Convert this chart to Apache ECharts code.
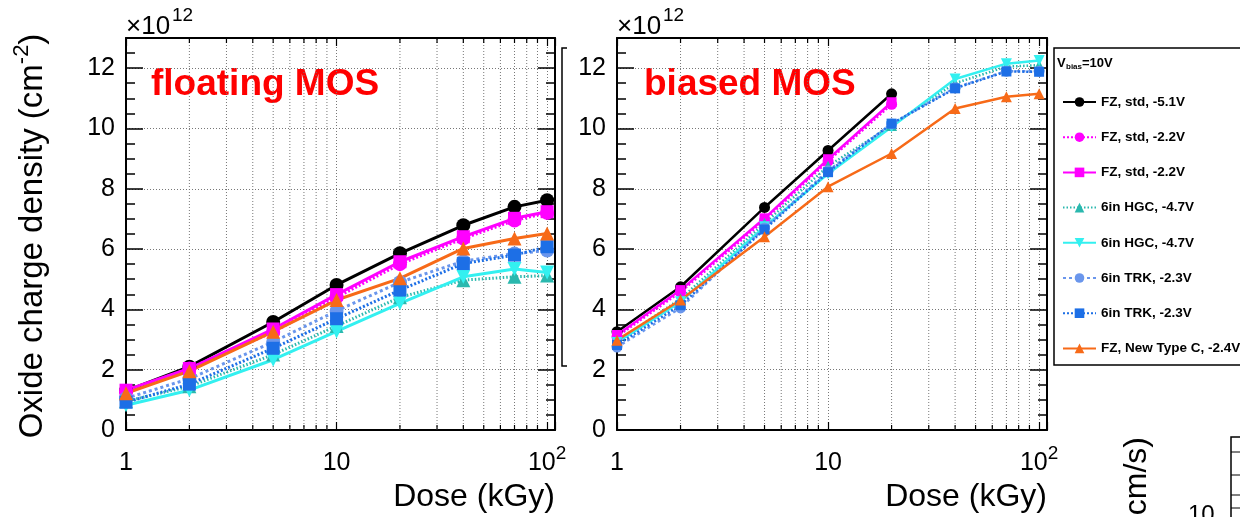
<!DOCTYPE html>
<html><head><meta charset="utf-8">
<script src="https://cdn.jsdelivr.net/npm/echarts@6/dist/echarts.min.js"></script>
<style>html,body{margin:0;padding:0;background:#fff}#c{width:1240px;height:517px}</style>
</head><body><div id="c"></div>
<script>
// ---------- data ----------
const doses = [1, 2, 5, 10, 20, 40, 70, 100];
const minorDoses = [2, 3, 4, 5, 6, 7, 8, 9, 20, 30, 40, 50, 60, 70, 80, 90];
const xTickValues = [1, 10, 100];
const xTickLabels = ['1', '10', '10^2'];
const yTickValues = [0, 2, 4, 6, 8, 10, 12];
const seriesNames = ['FZ, std, -5.1V', 'FZ, std, -2.2V', 'FZ, std, -2.2V ', '6in HGC, -4.7V', '6in HGC, -4.7V ', '6in TRK, -2.3V', '6in TRK, -2.3V ', 'FZ, New Type C, -2.4V'];

// floating MOS (x1e12 cm^-2)
const floatFz51   = [1.30, 2.10, 3.58, 4.81, 5.86, 6.79, 7.40, 7.62];
const floatFz22c  = [1.28, 2.04, 3.25, 4.40, 5.50, 6.35, 6.95, 7.20];
const floatFz22s  = [1.32, 2.04, 3.35, 4.49, 5.58, 6.41, 7.02, 7.24];
const floatHgcUp  = [0.95, 1.45, 2.50, 3.45, 4.40, 4.97, 5.08, 5.12];
const floatHgcDn  = [0.82, 1.32, 2.33, 3.27, 4.20, 5.08, 5.34, 5.22];
const floatTrkC   = [1.05, 1.70, 2.92, 3.95, 4.90, 5.60, 5.85, 5.95];
const floatTrkS   = [0.92, 1.52, 2.71, 3.69, 4.64, 5.52, 5.80, 6.08];
const floatTypeC  = [1.22, 1.95, 3.26, 4.31, 5.03, 6.02, 6.35, 6.52];

// biased MOS (x1e12 cm^-2)
const biasFz51    = [3.26, 4.75, 7.38, 9.27, 11.15];
const biasFz22c   = [3.10, 4.58, 6.95, 8.92, 10.80];
const biasFz22s   = [3.15, 4.64, 7.02, 8.98, 10.87];
const biasHgcUp   = [2.95, 4.35, 6.85, 8.75, 10.10, 11.50, 12.05, 12.10];
const biasHgcDn   = [2.90, 4.25, 6.74, 8.50, 10.05, 11.64, 12.15, 12.25];
const biasTrkC    = [2.75, 4.05, 6.70, 8.60, 10.15, 11.35, 11.90, 11.90];
const biasTrkS    = [2.82, 4.14, 6.65, 8.55, 10.16, 11.33, 11.89, 11.88];
const biasTypeC   = [2.98, 4.31, 6.41, 8.07, 9.17, 10.66, 11.05, 11.15];

const floatSets = [floatFz51, floatFz22c, floatFz22s, floatHgcUp, floatHgcDn, floatTrkC, floatTrkS, floatTypeC];
const biasSets  = [biasFz51, biasFz22c, biasFz22s, biasHgcUp, biasHgcDn, biasTrkC, biasTrkS, biasTypeC];

// ---------- styles ----------
const FONT = "'Liberation Sans', Arial, Helvetica, sans-serif";
const Y_MIN = 0, Y_MAX = 13, X_MIN = 1, X_MAX = 109;
const looks = [
  {color: '#000000', symbol: 'circle',   type: 'solid', rot: 0},
  {color: '#ff00ff', symbol: 'circle',   type: [2, 2],  rot: 0},
  {color: '#ff00ff', symbol: 'rect',     type: 'solid', rot: 0},
  {color: '#2ab8ae', symbol: 'triangle', type: [1.5, 2], rot: 0},
  {color: '#33f0f0', symbol: 'triangle', type: 'solid', rot: 180},
  {color: '#6a96ec', symbol: 'circle',   type: [3, 3],  rot: 0},
  {color: '#1d6fe6', symbol: 'rect',     type: [2, 2],  rot: 0},
  {color: '#f76a18', symbol: 'triangle', type: 'solid', rot: 0}
];

function xLabel(v) {
  const e = Math.log10(v);
  for (let i = 0; i < xTickValues.length; i++) {
    if (Math.abs(Math.log10(xTickValues[i]) - e) < 1e-6) {
      return '{b|' + xTickLabels[i].replace(/\^(\w+)/, '}{s|$1') + '}';
    }
  }
  return '';
}
function yLabel(v) {
  return yTickValues.some(t => Math.abs(t - v) < 1e-9) ? String(Math.round(v)) : '';
}

function makeX(gridIndex, bottom) {
  return {
    type: 'log', logBase: 10, gridIndex, min: X_MIN, max: X_MAX,
    position: bottom ? 'bottom' : 'top',
    axisLine: {show: true, onZero: false, lineStyle: {color: '#000', width: 2}},
    axisTick: {show: true, inside: true, length: 8, lineStyle: {color: '#000', width: 1.2}},
    axisLabel: bottom ? {
      show: true, margin: 13, formatter: xLabel, color: '#000', fontFamily: FONT,
      rich: {
        b: {fontSize: 25, lineHeight: 33, verticalAlign: 'bottom', fontFamily: FONT, color: '#000'},
        s: {fontSize: 19, padding: [0, 0, 13, 0], verticalAlign: 'bottom', fontFamily: FONT, color: '#000'}
      }
    } : {show: false},
    splitLine: {show: bottom, lineStyle: {color: '#777', width: 1, type: [1, 2]}},
    minorTick: {show: false}, minorSplitLine: {show: false}
  };
}
function makeY(gridIndex, left) {
  return {
    type: 'value', gridIndex, min: Y_MIN, max: Y_MAX, interval: 2,
    position: left ? 'left' : 'right',
    axisLine: {show: true, lineStyle: {color: '#000', width: 2}},
    axisTick: {show: true, inside: true, length: 17, lineStyle: {color: '#000', width: 1.5}},
    minorTick: {show: true, splitNumber: 4, length: 9, lineStyle: {color: '#000', width: 1.5}},
    axisLabel: left ? {show: true, margin: 11, fontSize: 25, color: '#000', fontFamily: FONT, formatter: yLabel} : {show: false},
    splitLine: {show: left, lineStyle: {color: '#777', width: 1, type: [1, 2]}},
    minorSplitLine: {show: false}
  };
}

function minorItem(params, api) {
  const v = api.value(0);
  const b = api.coord([v, Y_MIN]);
  const t = api.coord([v, Y_MAX]);
  return {
    type: 'group', children: [
      {type: 'line', shape: {x1: b[0], y1: b[1], x2: t[0], y2: t[1]}, style: {stroke: '#777', lineWidth: 1, lineDash: [1, 2]}},
      {type: 'line', shape: {x1: b[0], y1: b[1], x2: b[0], y2: b[1] - 5}, style: {stroke: '#000', lineWidth: 1.2}},
      {type: 'line', shape: {x1: t[0], y1: t[1], x2: t[0], y2: t[1] + 5}, style: {stroke: '#000', lineWidth: 1.2}}
    ]
  };
}

const series = [];
[0, 1].forEach(g => {
  series.push({
    type: 'custom', name: 'minor' + g, xAxisIndex: g * 2, yAxisIndex: g * 2, silent: true, z: 1,
    renderItem: minorItem, data: minorDoses.map(d => [d, 0]), encode: {x: 0, y: 1}
  });
});
[[floatSets, 0, 14, 3], [biasSets, 1, 11, 2.5]].forEach(([sets, g, sym, lw]) => {
  sets.forEach((vals, i) => {
    const lk = looks[i];
    series.push({
      type: 'line', name: seriesNames[i], xAxisIndex: g * 2, yAxisIndex: g * 2, z: 3,
      data: vals.map((v, k) => [doses[k], v]),
      symbol: lk.symbol, symbolRotate: lk.rot, symbolSize: lk.symbol === 'rect' ? sym - 1 : sym,
      showAllSymbol: true, animation: false,
      lineStyle: {color: lk.color, width: lw, type: lk.type},
      itemStyle: {color: lk.color, borderWidth: 0}
    });
  });
});

const rotTitle = {
  type: 'text', x: 30, y: 236, rotation: Math.PI / 2,
  style: {
    text: '{b|Oxide charge density (cm}{s|-2}{b|)}', align: 'center', verticalAlign: 'middle',
    rich: {
      b: {fontSize: 33, fontFamily: FONT, fill: '#000', verticalAlign: 'bottom'},
      s: {fontSize: 22, fontFamily: FONT, fill: '#000', padding: [0, 0, 16, 0], verticalAlign: 'bottom'}
    }
  }
};

function txt(x, y, text, size, opts) {
  return Object.assign({type: 'text', x, y, style: Object.assign({text, fontSize: size, fontFamily: FONT, fill: '#000', align: 'left', verticalAlign: 'middle'}, opts || {})});
}

const graphics = [
  rotTitle,
  txt(126, 27, '×10', 26), txt(172, 16, '12', 19),
  txt(617, 27, '×10', 26), txt(663, 16, '12', 19),
  txt(151, 85, 'floating MOS', 37, {fontWeight: 'bold', fill: '#ff0000'}),
  txt(644, 85, 'biased MOS', 37, {fontWeight: 'bold', fill: '#ff0000'}),
  txt(555, 497, 'Dose (kGy)', 32, {align: 'right'}),
  txt(1047, 497, 'Dose (kGy)', 32, {align: 'right'}),
  {type: 'rect', shape: {x: 1054, y: 48, width: 220, height: 317}, style: {fill: 'none', stroke: '#000', lineWidth: 1.5}},
  txt(1057, 63, 'V', 13, {fontWeight: 'bold'}),
  txt(1066, 67, 'bias', 8, {fontWeight: 'bold'}),
  txt(1082, 63, '=10V', 13, {fontWeight: 'bold'}),
  {type: 'polyline', shape: {points: [[567, 48], [562, 48], [562, 366], [567, 366]]}, style: {fill: 'none', stroke: '#000', lineWidth: 1.5}},
  {type: 'text', x: 1137, y: 437, rotation: Math.PI / 2, style: {text: 'cm/s)', fontSize: 32, fontFamily: FONT, fill: '#000', align: 'right', verticalAlign: 'middle'}},
  txt(1188, 515, '10', 24),
  {type: 'polyline', shape: {points: [[1245, 437], [1231, 437], [1231, 520]]}, style: {fill: 'none', stroke: '#000', lineWidth: 1.5}},
  {type: 'line', shape: {x1: 1231, y1: 452, x2: 1245, y2: 452}, style: {stroke: '#000', lineWidth: 1}},
  {type: 'line', shape: {x1: 1231, y1: 475, x2: 1245, y2: 475}, style: {stroke: '#000', lineWidth: 1}},
  {type: 'line', shape: {x1: 1231, y1: 495, x2: 1245, y2: 495}, style: {stroke: '#000', lineWidth: 1}},
  {type: 'line', shape: {x1: 1231, y1: 508, x2: 1245, y2: 508}, style: {stroke: '#000', lineWidth: 1}}
];

const chart = echarts.init(document.getElementById('c'), null, {renderer: 'canvas'});
chart.setOption({
  animation: false,
  backgroundColor: '#fff',
  grid: [
    {left: 126, top: 38, width: 429, height: 392, containLabel: false, outerBoundsMode: 'none'},
    {left: 617, top: 38, width: 430, height: 392, containLabel: false, outerBoundsMode: 'none'}
  ],
  xAxis: [makeX(0, true), makeX(0, false), makeX(1, true), makeX(1, false)],
  yAxis: [makeY(0, true), makeY(0, false), makeY(1, true), makeY(1, false)],
  legend: {
    orient: 'vertical', left: 1062, top: 95, itemWidth: 33, itemHeight: 12, itemGap: 21.2,
    padding: 0, selectedMode: false, data: seriesNames,
    textStyle: {fontFamily: FONT, fontSize: 13.5, fontWeight: 'bold', color: '#000'}
  },
  tooltip: {show: false},
  series,
  graphic: graphics
});
</script></body></html>
